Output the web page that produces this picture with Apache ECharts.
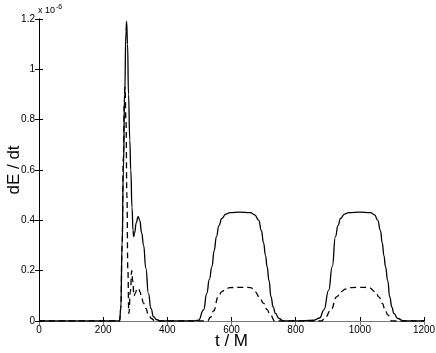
<!DOCTYPE html>
<html lang="en">
<head>
    <meta charset="UTF-8">
    <title>dE / dt</title>
    <style>
        * {
            margin: 0px;
            padding: 0px;
        }

        #main {
            width: 436px;
            height: 353px;
            background-color: #ffffff;
        }
    </style>
</head>
<body>
<div id="main"></div>

<script src="https://cdn.jsdelivr.net/npm/echarts@6/dist/echarts.min.js"></script>
<script type="text/javascript">
    // values in units of 1e-6
    var solidT = [0, 240, 251, 255, 259, 263, 267, 271, 273, 276, 279, 283, 286, 290, 293, 295, 298, 303, 309, 314, 320,
        326, 333, 341, 349, 357, 367, 380, 480, 497, 513, 523, 531, 539, 546, 553, 561, 570, 582, 596, 625, 659, 672,
        685, 693, 700, 706, 711, 717, 723, 730, 737, 748, 762, 800, 857, 875, 888, 903, 914, 924, 932, 940, 952, 966,
        1000, 1033, 1046, 1056, 1064, 1070, 1075, 1080, 1087, 1093, 1100, 1106, 1118, 1137, 1200];
    var solidV = [0, 0, 0, 0.05, 0.3, 0.6, 0.9, 1.15, 1.19, 1.1, 0.9, 0.72, 0.6, 0.45, 0.36, 0.335, 0.35, 0.39, 0.415, 0.4, 0.35,
        0.3, 0.21, 0.11, 0.05, 0.017, 0.005, 0, 0, 0.003, 0.044, 0.11, 0.165, 0.216, 0.28, 0.335, 0.38, 0.408, 0.425, 0.431, 0.433, 0.431, 0.422,
        0.4, 0.36, 0.31, 0.26, 0.216, 0.16, 0.097, 0.055, 0.03, 0.01, 0, 0, 0.003, 0.012, 0.044, 0.123, 0.216, 0.335, 0.38, 0.408, 0.425, 0.431,
        0.433, 0.431, 0.422, 0.4, 0.36, 0.31, 0.26, 0.216, 0.16, 0.097, 0.055, 0.03, 0.01, 0, 0];

    var dashT = [0, 240, 251, 255, 259, 263, 266, 268, 271, 274, 277, 280, 285, 289, 292, 296, 300, 305, 310, 315, 320,
        326, 333, 341, 350, 362, 400, 525, 535, 544, 559, 570, 581, 595, 628, 660, 674, 687, 700, 711, 721, 735, 780,
        880, 893, 908, 929, 942, 955, 975, 1000, 1028, 1049, 1060, 1070, 1079, 1087, 1100, 1200];
    var dashV = [0, 0, 0, 0.05, 0.3, 0.65, 0.88, 0.93, 0.8, 0.5, 0.2, 0.03, 0.12, 0.2, 0.16, 0.1, 0.11, 0.125, 0.13, 0.115, 0.09,
        0.07, 0.05, 0.025, 0.01, 0, 0, 0, 0.015, 0.04, 0.097, 0.117, 0.127, 0.133, 0.134, 0.133, 0.116, 0.095, 0.07, 0.045, 0.024, 0, 0,
        0, 0.015, 0.04, 0.097, 0.117, 0.127, 0.133, 0.134, 0.133, 0.116, 0.095, 0.07, 0.045, 0.024, 0, 0];

    var xTicks = [0, 200, 400, 600, 800, 1000, 1200];
    var yTicks = [0, 0.2, 0.4, 0.6, 0.8, 1, 1.2];

    function pairs(t, v) {
        var out = [];
        for (var i = 0; i < t.length; i++) {
            out.push([t[i], v[i]]);
        }
        return out;
    }

    var font = 'Liberation Sans, Arial, Helvetica, sans-serif';
    var myChart = echarts.init(document.getElementById('main'));
    myChart.setOption({
        animation: false,
        grid: {left: 39, right: 12, top: 19, bottom: 32, outerBoundsMode: 'none', containLabel: false},
        graphic: [{
            type: 'text',
            left: 38,
            top: 4,
            style: {
                text: 'x 10{s|-6}',
                font: '9px ' + font,
                fill: '#000',
                rich: {s: {fontSize: 7, verticalAlign: 'top', padding: [0, 0, 6, 1]}}
            }
        }],
        xAxis: [{
            type: 'value',
            min: xTicks[0],
            max: xTicks[xTicks.length - 1],
            interval: 200,
            name: 't / M',
            nameLocation: 'middle',
            nameGap: 12,
            nameMoveOverlap: false,
            nameTextStyle: {fontSize: 17, color: '#000', fontFamily: font},
            splitLine: {show: false},
            axisLine: {lineStyle: {color: '#000', width: 1}},
            axisTick: {inside: true, length: 4, lineStyle: {color: '#000'}},
            axisLabel: {
                fontSize: 10, color: '#000', fontFamily: font, margin: 4,
                formatter: function (v) { return String(v); }
            }
        }, {
            type: 'value',
            position: 'top',
            min: xTicks[0],
            max: xTicks[xTicks.length - 1],
            interval: 200,
            splitLine: {show: false},
            axisLine: {lineStyle: {color: '#777', width: 1}},
            axisTick: {inside: true, length: 4, lineStyle: {color: '#777'}},
            axisLabel: {show: false}
        }],
        yAxis: [{
            type: 'value',
            min: yTicks[0],
            max: yTicks[yTicks.length - 1],
            interval: 0.2,
            name: 'dE / dt',
            nameLocation: 'middle',
            nameGap: 16,
            nameMoveOverlap: false,
            nameTextStyle: {fontSize: 17, color: '#000', fontFamily: font},
            splitLine: {show: false},
            axisLine: {lineStyle: {color: '#000', width: 1}},
            axisTick: {inside: true, length: 4, lineStyle: {color: '#000'}},
            axisLabel: {
                fontSize: 10, color: '#000', fontFamily: font, margin: 4,
                formatter: function (v) { return String(v); }
            }
        }, {
            type: 'value',
            position: 'right',
            min: yTicks[0],
            max: yTicks[yTicks.length - 1],
            interval: 0.2,
            splitLine: {show: false},
            axisLine: {lineStyle: {color: '#000', width: 1}},
            axisTick: {inside: true, length: 4, lineStyle: {color: '#000'}},
            axisLabel: {show: false}
        }],
        series: [{
            type: 'line',
            data: pairs(solidT, solidV),
            showSymbol: false,
            smooth: 0.5,
            smoothMonotone: 'x',
            lineStyle: {color: '#000', width: 1.3}
        }, {
            type: 'line',
            data: pairs(dashT, dashV),
            showSymbol: false,
            smooth: 0.5,
            smoothMonotone: 'x',
            lineStyle: {color: '#000', width: 1.3, type: [6, 4]}
        }]
    });
</script>
</body>
</html>
